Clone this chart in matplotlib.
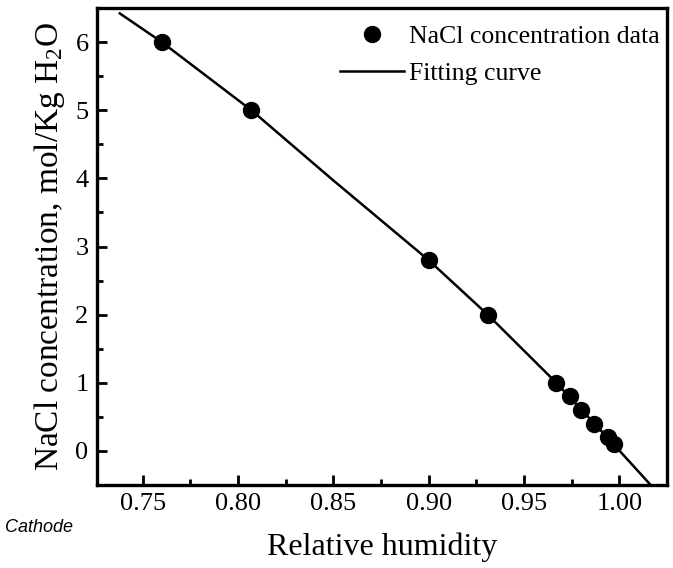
import matplotlib
matplotlib.use("Agg")
from matplotlib import pyplot as plt
from matplotlib.ticker import MultipleLocator

# measured NaCl concentration vs relative humidity
rh_data = [0.760, 0.807, 0.900, 0.931, 0.967, 0.974, 0.980, 0.987, 0.994, 0.997]
conc_data = [6.0, 5.0, 2.8, 2.0, 1.0, 0.8, 0.6, 0.4, 0.2, 0.1]

# fitting curve
rh_fit = [0.738, 0.760, 0.807, 0.850, 0.900, 0.931, 0.967, 0.997, 1.0165]
conc_fit = [6.42, 6.0, 5.0, 3.97, 2.8, 2.0, 1.0, 0.1, -0.5]

serif = "Liberation Serif"
plt.rcParams["mathtext.fontset"] = "custom"
plt.rcParams["mathtext.rm"] = serif
plt.rcParams["mathtext.it"] = serif + ":italic"

fig = plt.figure(figsize=(6.73, 5.68), dpi=100)
ax = fig.add_axes([0.144, 0.146, 0.847, 0.840])

ax.plot(rh_data, conc_data, "ko", markersize=11.5, label="NaCl concentration data", linestyle="none")
ax.plot(rh_fit, conc_fit, "k-", linewidth=1.8, label="Fitting curve")

ax.set_xlim(0.726, 1.025)
ax.set_ylim(-0.5, 6.5)
ax.xaxis.set_minor_locator(MultipleLocator(0.025))
ax.yaxis.set_major_locator(MultipleLocator(1))
ax.yaxis.set_minor_locator(MultipleLocator(0.5))
ax.set_xticks([0.75, 0.80, 0.85, 0.90, 0.95, 1.00])
ax.set_xticklabels(["0.75", "0.80", "0.85", "0.90", "0.95", "1.00"])

ax.tick_params(which="both", direction="in", top=False, right=False, width=2)
ax.tick_params(which="major", length=7, labelsize=19, pad=6)
ax.tick_params(which="minor", length=4)
for lab in ax.get_xticklabels() + ax.get_yticklabels():
    lab.set_family(serif)
for s in ax.spines.values():
    s.set_linewidth(2.4)

ax.set_xlabel("Relative humidity", family=serif, fontsize=23, labelpad=12)
ax.set_ylabel("NaCl concentration, mol/Kg H$_\\mathrm{2}$O", family=serif, fontsize=24, labelpad=6)

leg = ax.legend(loc="upper left", bbox_to_anchor=(0.426, 0.965), frameon=False,
                numpoints=1, handlelength=2.5, handletextpad=0.2, labelspacing=0.55,
                borderpad=0, borderaxespad=0, prop={"family": serif, "size": 18.5})

fig.text(0.008, 0.064, "Cathode", family="Liberation Sans", style="italic", fontsize=13)

fig.savefig("out.png", dpi=100)
